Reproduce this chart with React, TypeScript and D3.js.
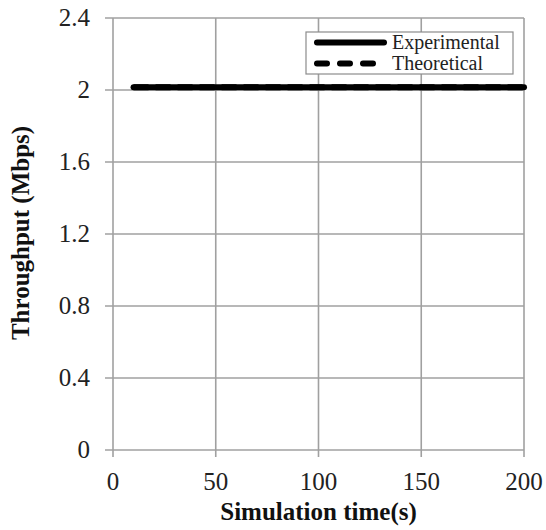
import * as d3 from "d3";
import { useEffect, useRef } from "react";

// simulation time (s)
const timeValues = [10, 20, 30, 40, 50, 60, 70, 80, 90, 100, 110, 120, 130, 140, 150, 160, 170, 180, 190, 200];
// throughput (Mbps)
const experimental = [2.015, 2.015, 2.015, 2.015, 2.015, 2.015, 2.015, 2.015, 2.015, 2.015, 2.015, 2.015, 2.015, 2.015, 2.015, 2.015, 2.015, 2.015, 2.015, 2.015];
const theoretical = [2.015, 2.015, 2.015, 2.015, 2.015, 2.015, 2.015, 2.015, 2.015, 2.015, 2.015, 2.015, 2.015, 2.015, 2.015, 2.015, 2.015, 2.015, 2.015, 2.015];

const xTicks = [0, 50, 100, 150, 200];
const yTicks = [0, 0.4, 0.8, 1.2, 1.6, 2, 2.4];
const seriesNames = ["Experimental", "Theoretical"];

const App = () => {
  const ref = useRef<SVGSVGElement | null>(null);

  const chartWidth = 546;
  const chartHeight = 530;
  const margin = { top: 18, right: 22, bottom: 80, left: 113 };
  const width = chartWidth - margin.left - margin.right;
  const height = chartHeight - margin.top - margin.bottom;
  const font = "'Liberation Serif', 'Times New Roman', serif";
  const gray = "#a0a0a0";

  useEffect(() => {
    const svg = d3.select(ref.current);
    svg.selectAll("*").remove();

    const xScale = d3.scaleLinear().domain([0, 200]).range([0, width]);
    const yScale = d3.scaleLinear().domain([0, 2.4]).range([height, 0]);

    const g = svg.append("g").attr("transform", `translate(${margin.left},${margin.top})`);

    // grids
    g.append("g")
      .selectAll("line")
      .data(yTicks)
      .join("line")
      .attr("x1", -8)
      .attr("x2", width)
      .attr("y1", (d) => yScale(d))
      .attr("y2", (d) => yScale(d))
      .attr("stroke", gray)
      .attr("stroke-width", 1.6);
    g.append("g")
      .selectAll("line")
      .data(xTicks)
      .join("line")
      .attr("x1", (d) => xScale(d))
      .attr("x2", (d) => xScale(d))
      .attr("y1", 0)
      .attr("y2", height + 7)
      .attr("stroke", gray)
      .attr("stroke-width", 1.6);

    // tick labels
    g.append("g")
      .selectAll("text")
      .data(yTicks)
      .join("text")
      .attr("x", -23)
      .attr("y", (d) => yScale(d) + 8)
      .attr("text-anchor", "end")
      .attr("font-family", font)
      .attr("font-size", "25px")
      .attr("fill", "#222")
      .text((d) => String(d));
    g.append("g")
      .selectAll("text")
      .data(xTicks)
      .join("text")
      .attr("x", (d) => xScale(d))
      .attr("y", height + 40)
      .attr("text-anchor", "middle")
      .attr("font-family", font)
      .attr("font-size", "25px")
      .attr("fill", "#222")
      .text((d) => String(d));

    // lines
    const line = d3
      .line<number>()
      .x((d, i) => xScale(timeValues[i]))
      .y((d) => yScale(d));

    g.append("path")
      .datum(theoretical)
      .attr("d", line)
      .attr("fill", "none")
      .attr("stroke", "black")
      .attr("stroke-width", 6)
      .attr("stroke-dasharray", "15,7");
    g.append("path")
      .datum(experimental)
      .attr("d", line)
      .attr("fill", "none")
      .attr("stroke", "black")
      .attr("stroke-width", 6)
      .attr("stroke-linecap", "round");

    // legend
    const lg = svg.append("g").attr("transform", "translate(306,32)");
    lg.append("rect")
      .attr("width", 207)
      .attr("height", 42)
      .attr("fill", "white")
      .attr("stroke", "#8c8c8c")
      .attr("stroke-width", 1.2);
    seriesNames.forEach((name, i) => {
      const y = 10.5 + i * 21;
      lg.append("line")
        .attr("x1", 11)
        .attr("x2", 78)
        .attr("y1", y)
        .attr("y2", y)
        .attr("stroke", "black")
        .attr("stroke-width", 6)
        .attr("stroke-linecap", "round")
        .attr("stroke-dasharray", i === 1 ? "10,13" : null);
      lg.append("text")
        .attr("x", 86)
        .attr("y", y + 6.5)
        .attr("font-family", font)
        .attr("font-size", "20px")
        .attr("fill", "#222")
        .text(name);
    });

    // axis titles
    svg.append("text")
      .attr("x", margin.left + width / 2)
      .attr("y", 520)
      .attr("text-anchor", "middle")
      .attr("font-family", font)
      .attr("font-weight", "bold")
      .attr("font-size", "25px")
      .attr("fill", "#111")
      .text("Simulation time(s)");
    svg.append("text")
      .attr("transform", `translate(29,${233})rotate(-90)`)
      .attr("text-anchor", "middle")
      .attr("font-family", font)
      .attr("font-weight", "bold")
      .attr("font-size", "25px")
      .attr("fill", "#111")
      .text("Throughput (Mbps)");
  }, []);

  return (
    <svg
      ref={ref}
      width={chartWidth}
      height={chartHeight}
      style={{ position: "absolute", left: 0, top: 0, background: "white" }}
    />
  );
};

export default App;
